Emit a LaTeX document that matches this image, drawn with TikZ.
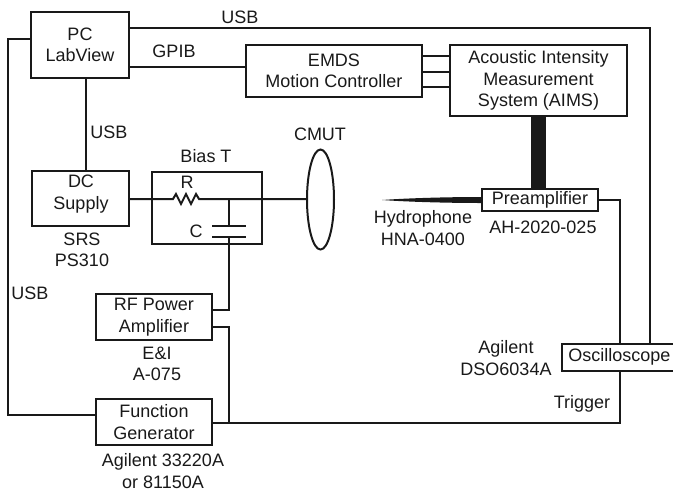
\documentclass[tikz,border=0pt]{standalone}
\usepackage{fontspec}
\setmainfont{Liberation Sans}
\usetikzlibrary{arrows,shapes}
\definecolor{ink}{gray}{0.1}
\tikzstyle{box}=[draw=ink,line width=2pt,inner sep=0pt,align=center,text=ink,font=\fontsize{18}{21.5}\selectfont]
\tikzstyle{wire} = [draw=ink,line width=2pt]
\tikzstyle{caption} = [inner sep=0pt,align=center,text=ink,font=\fontsize{18}{21.5}\selectfont]

\begin{document}
\begin{tikzpicture}[x=1pt,y=-1pt]
    \useasboundingbox (0,0) rectangle (673,491);
    % Draw the instruments
    \foreach \pos/\name/\wid/\hei/\txt in {{(80,45)/pc/98/66/PC\\LabView},
                            {(334,71)/emds/176/52/EMDS\\Motion Controller},
                            {(538.5,80.5)/aims/177/71/Acoustic Intensity\\Measurement\\System (AIMS)},
                            {(540,200)/preamp/116/22/Preamplifier},
                            {(154,317)/rf/116/46/RF Power\\Amplifier},
                            {(154,422)/fg/116/46/Function\\Generator}}
        \node[box, minimum width=\wid pt, minimum height=\hei pt] (\name) at \pos {\txt};
    \node[box, minimum width=124pt, minimum height=27pt] (osc) at (624,357.5) {};
    \node[caption] at (619.5,356.5) {Oscilloscope};
    \node[box, minimum width=97pt, minimum height=55pt] (dc) at (80.5,198.5) {};
    \node[caption] at (81,194) {DC\\Supply};
    \node[box, minimum width=110pt, minimum height=72pt] (bias) at (206.5,208) {};
    \node[draw=ink, line width=2pt, ellipse, inner sep=0pt, minimum width=27pt, minimum height=100pt] (cmut) at (320.5,199.5) {};
    % Points on the bias T circuit
    \coordinate (rin) at (173,199);
    \coordinate (rout) at (202,199);
    \coordinate (tee) at (229,199);
    \coordinate (cup) at (229,226);
    \coordinate (cdown) at (229,237);
    \coordinate (tip) at (382,200);
    % Connect the instruments
    \draw[wire] ([yshift=17pt]pc.east) -| (649.5,0 |- osc.north);
    \draw[wire] (pc.east |- 0,67) -- (emds.west |- 0,67);
    \draw[wire] (pc.west |- 0,39) -| (8,415) -- (fg.west |- 0,415);
    \draw[wire] (85.5,0 |- pc.south) -- (85.5,0 |- dc.north);
    \foreach \y in {56,72,87}
        \draw[wire] (emds.east |- 0,\y) -- (aims.west |- 0,\y);
    \fill[ink] ([xshift=-7.5pt]538.5,0 |- aims.south) rectangle ([xshift=7.5pt]538.5,0 |- preamp.north);
    \fill[ink] (tip) .. controls (410,198) and (450,197) .. (preamp.west |- 0,197) -- (preamp.west |- 0,203) .. controls (450,203) and (410,202) .. (tip);
    \draw[wire] (dc.east |- rin) -- (rin) -- ++(3,-5) -- ++(5,10) -- ++(5,-10) -- ++(5,10) -- ++(5,-10) -- ++(3,5) -- (rout) -- (cmut.west |- rin);
    \draw[wire] (tee) -- (cup);
    \draw[wire] (212,226) -- (246,226);
    \draw[wire] (212,237) -- (246,237);
    \draw[wire] (cdown) |- (rf.east |- 0,310);
    \draw[wire] (rf.east |- 0,327) -| (229,423);
    \draw[wire] (fg.east |- 0,423) -| (620,0 |- osc.south);
    \draw[wire] (preamp.east) -| (620,0 |- osc.north);
    % Labels next to the instruments
    \foreach \pos/\name/\txt in {{(240,17)/usbtop/USB}, {(174,51)/gpib/GPIB}, {(109,132)/usbmid/USB},
                            {(30,293)/usbleft/USB}, {(206,156)/biast/Bias T}, {(187,182)/rlab/R},
                            {(196,231)/clab/C}, {(320,134)/cmutlab/CMUT}, {(82,250)/srs/SRS\\PS310},
                            {(157,364)/ei/E\&I\\A-075}, {(163,471)/agfg/Agilent 33220A\\or 81150A},
                            {(423,228)/hydro/Hydrophone\\HNA-0400}, {(543,227)/ah/AH-2020-025},
                            {(506,358)/agosc/Agilent\\DSO6034A}, {(582,404)/trig/Trigger}}
        \node[caption] (\name) at \pos {\txt};
\end{tikzpicture}
\end{document}
